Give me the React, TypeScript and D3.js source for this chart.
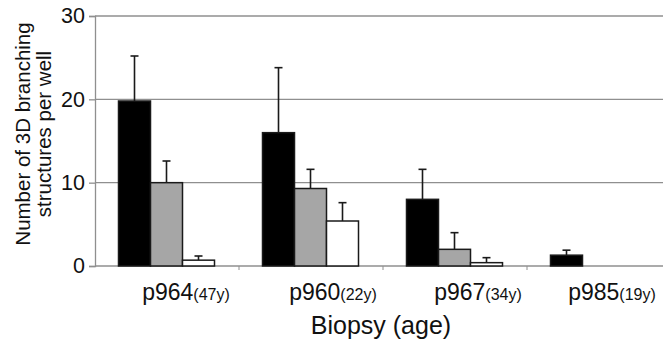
import { useEffect, useRef } from 'react';
import * as d3 from 'd3';

// biopsies along the x axis and the donor age printed next to each
const biopsies = ['p964', 'p960', 'p967', 'p985'];
const ages = ['(47y)', '(22y)', '(34y)', '(19y)'];

// three conditions per biopsy (black, grey, white bars)
const conditions = ['black', 'grey', 'white'];
const blackMeans = [19.8, 16.0, 8.0, 1.3];
const blackErrors = [5.4, 7.8, 3.6, 0.6];
const greyMeans = [10.0, 9.3, 2.0, 0];
const greyErrors = [2.6, 2.3, 2.0, 0];
const whiteMeans = [0.7, 5.4, 0.4, 0];
const whiteErrors = [0.5, 2.2, 0.6, 0];

const yTicks = [0, 10, 20, 30];

const width = 663;
const height = 347;
const margin = { top: 16, right: -8, bottom: 81, left: 95 };
const fills = { black: '#000000', grey: '#a6a6a6', white: '#ffffff' };
// the category labels sit a bit right of the band centres in the original
const labelShift = [19, 22, 23, 13];
const font = '"Liberation Sans", Arial, sans-serif';

const App = () => {
    const svgRef = useRef(null);

    useEffect(() => {
        const svg = d3.select(svgRef.current);
        svg.selectAll('*').remove();

        const boundsWidth = width - margin.left - margin.right;
        const boundsHeight = height - margin.top - margin.bottom;

        const g = svg.append('g').attr('transform', `translate(${margin.left},${margin.top})`);

        const x = d3.scaleBand().domain(biopsies).range([0, boundsWidth]).padding(0);
        const xInner = d3.scaleBand().domain(conditions).range([0, x.bandwidth()])
            .paddingInner(0).paddingOuter(0.75);
        const y = d3.scaleLinear().domain([0, 30]).range([boundsHeight, 0]);

        // gridlines
        g.selectAll('line.grid')
            .data(yTicks)
            .join('line')
            .attr('class', 'grid')
            .attr('x1', 0)
            .attr('x2', boundsWidth)
            .attr('y1', d => y(d))
            .attr('y2', d => y(d))
            .attr('stroke', '#8f8f8f')
            .attr('stroke-width', 1.3);

        // y axis
        const yAxis = g.append('g')
            .call(d3.axisLeft(y).tickValues(yTicks).tickSize(6).tickPadding(4));
        yAxis.select('.domain').attr('stroke', '#8f8f8f').attr('stroke-width', 1.3);
        yAxis.selectAll('.tick line').attr('stroke', '#8f8f8f').attr('stroke-width', 1.3);
        yAxis.selectAll('.tick text')
            .attr('font-family', font)
            .attr('font-size', 21.5)
            .attr('fill', '#111');

        // category tick marks on the x axis
        g.selectAll('line.xtick')
            .data(biopsies.slice(1))
            .join('line')
            .attr('class', 'xtick')
            .attr('x1', d => x(d))
            .attr('x2', d => x(d))
            .attr('y1', boundsHeight)
            .attr('y2', boundsHeight + 4)
            .attr('stroke', '#8f8f8f');

        const rows = biopsies.flatMap((b, i) => [
            { b, key: 'black', value: blackMeans[i], err: blackErrors[i] },
            { b, key: 'grey', value: greyMeans[i], err: greyErrors[i] },
            { b, key: 'white', value: whiteMeans[i], err: whiteErrors[i] },
        ]).filter(d => d.value > 0);

        const bx = d => x(d.b) + xInner(d.key) - 0.5;

        // error bars (upper half only)
        const err = g.append('g').attr('stroke', '#1a1a1a').attr('stroke-width', 1.6);
        err.selectAll('line.stem')
            .data(rows.filter(d => d.err > 0))
            .join('line')
            .attr('x1', d => bx(d) + xInner.bandwidth() / 2)
            .attr('x2', d => bx(d) + xInner.bandwidth() / 2)
            .attr('y1', d => y(d.value))
            .attr('y2', d => y(d.value + d.err));
        err.selectAll('line.cap')
            .data(rows.filter(d => d.err > 0))
            .join('line')
            .attr('x1', d => bx(d) + xInner.bandwidth() / 2 - 4)
            .attr('x2', d => bx(d) + xInner.bandwidth() / 2 + 4)
            .attr('y1', d => y(d.value + d.err))
            .attr('y2', d => y(d.value + d.err));

        // bars
        g.selectAll('rect.bar')
            .data(rows)
            .join('rect')
            .attr('class', 'bar')
            .attr('x', d => bx(d))
            .attr('y', d => y(d.value))
            .attr('width', xInner.bandwidth())
            .attr('height', d => y(0) - y(d.value))
            .attr('fill', d => fills[d.key])
            .attr('stroke', '#1a1a1a')
            .attr('stroke-width', 1.5);

        // category labels
        const labels = g.selectAll('text.cat')
            .data(biopsies)
            .join('text')
            .attr('class', 'cat')
            .attr('x', (d, i) => x(d) + x.bandwidth() / 2 + labelShift[i])
            .attr('y', boundsHeight + 34)
            .attr('text-anchor', 'middle')
            .attr('font-family', font)
            .attr('fill', '#111');
        labels.append('tspan').attr('font-size', 23).text(d => d);
        labels.append('tspan').attr('font-size', 16).text((d, i) => ages[i]);

        // axis titles
        svg.append('text')
            .attr('x', 381)
            .attr('y', 334)
            .attr('text-anchor', 'middle')
            .attr('font-family', font)
            .attr('font-size', 25)
            .attr('fill', '#111')
            .text('Biopsy (age)');

        const yTitle = svg.append('text')
            .attr('transform', 'translate(30,134) rotate(-90)')
            .attr('text-anchor', 'middle')
            .attr('font-family', font)
            .attr('font-size', 20.5)
            .attr('fill', '#111');
        yTitle.append('tspan').attr('x', 0).attr('y', 0).text('Number of 3D branching');
        yTitle.append('tspan').attr('x', 0).attr('y', 20.5).text('structures per well');
    }, []);

    return (
        <svg
            ref={svgRef}
            width={width}
            height={height}
            style={{ position: 'absolute', left: 0, top: 0, background: '#fff' }}
        ></svg>
    );
};

export default App;
